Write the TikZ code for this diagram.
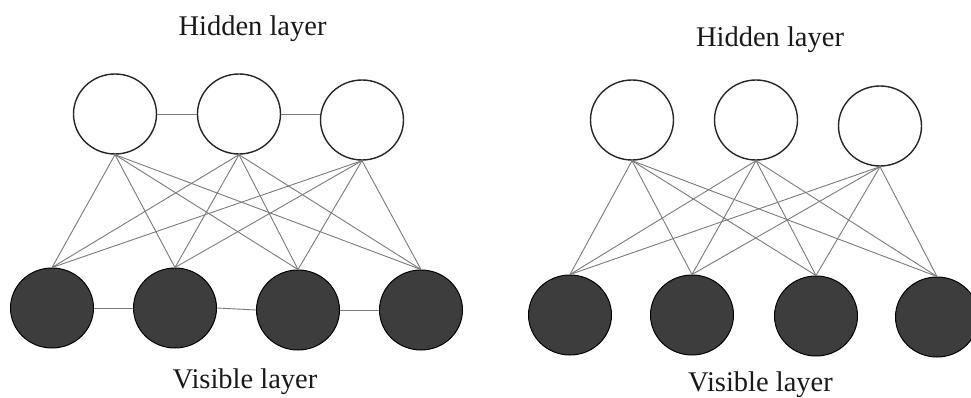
\documentclass[tikz,border=0pt]{standalone}
\usepackage{fontspec}
\setmainfont{Liberation Serif}
\usetikzlibrary{shapes.geometric}
\definecolor{darkfill}{HTML}{3D3D3D}
\definecolor{edgegray}{HTML}{7A7A7A}
\tikzset{
  hid/.style={ellipse, draw=black!85, line width=1.4pt, fill=white, minimum width=83pt, minimum height=80pt, inner sep=0pt},
  vis/.style={ellipse, draw=black, line width=1pt, fill=darkfill, minimum width=83pt, minimum height=80pt, inner sep=0pt},
  conn/.style={draw=edgegray, line width=0.9pt},
  lbl/.style={font=\fontsize{28.5}{30}\selectfont, anchor=base, inner sep=0pt, text=black!90}
}
\begin{document}
\begin{tikzpicture}[x=1pt,y=-1pt]
\useasboundingbox (0,0) rectangle (971,398);
% left diagram
\node[hid] (lh1) at (115,114) {};
\node[hid] (lh2) at (239,114) {};
\node[hid] (lh3) at (362,120) {};
\node[vis] (lv1) at (52,308) {};
\node[vis] (lv2) at (175,308) {};
\node[vis] (lv3) at (298,310) {};
\node[vis] (lv4) at (421,310) {};
\node[lbl] (lth) at (252.5,36) {Hidden layer};
\node[lbl] (ltv) at (245,388) {Visible layer};
\foreach \h in {lh1,lh2,lh3}{
  \foreach \v in {lv1,lv2,lv3,lv4}{
    \draw[conn] (\h.south) -- (\v.north);
  }
}
\draw[conn] (lh1.east) -- (lh2.west);
\draw[conn] (lh2.east) -- (lh2.east -| lh3.west);
\draw[conn] (lv1.east) -- (lv2.west);
\draw[conn] (lv2.east) -- (lv3.west);
\draw[conn] (lv3.east) -- (lv4.west);
% right diagram
\node[hid] (rh1) at (632,120) {};
\node[hid] (rh2) at (756,120) {};
\node[hid] (rh3) at (880,126) {};
\node[vis] (rv1) at (570,315) {};
\node[vis] (rv2) at (692,315) {};
\node[vis] (rv3) at (816,316) {};
\node[vis] (rv4) at (937,317) {};
\node[lbl] (rth) at (770,47) {Hidden layer};
\node[lbl] (rtv) at (760.5,391) {Visible layer};
\foreach \h in {rh1,rh2,rh3}{
  \foreach \v in {rv1,rv2,rv3,rv4}{
    \draw[conn] (\h.south) -- (\v.north);
  }
}
\end{tikzpicture}
\end{document}
